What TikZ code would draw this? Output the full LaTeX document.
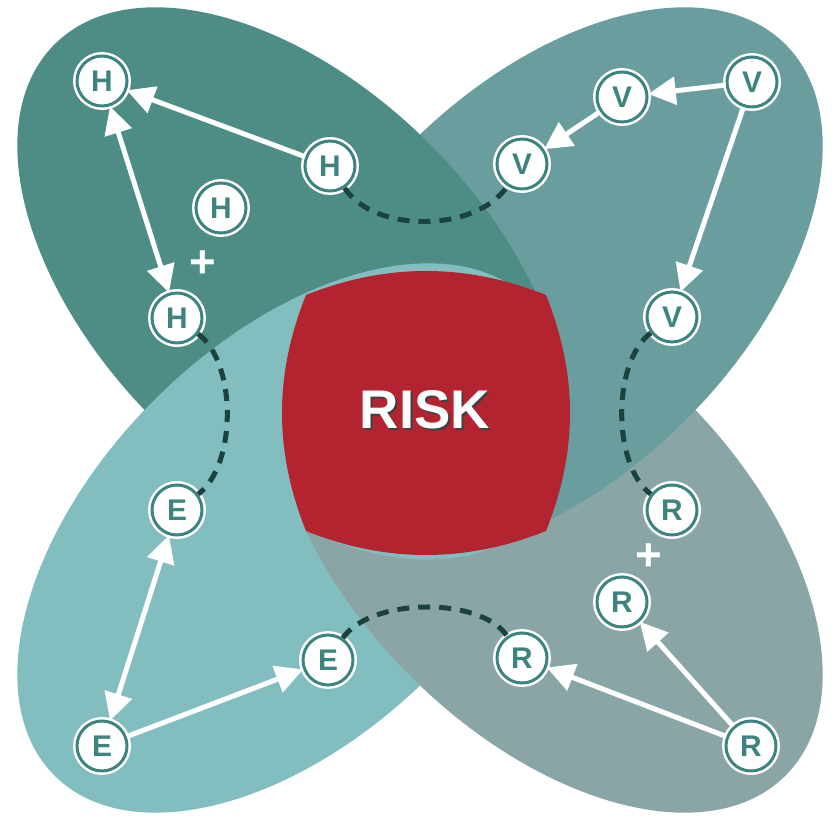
\documentclass[tikz,border=0pt]{standalone}
\usepackage{fontspec}
\setmainfont{Liberation Sans}
\usepackage{xcolor}
\usepackage{tikz}
\usetikzlibrary{arrows.meta,positioning,calc}
\definecolor{petalH}{RGB}{78,141,134}
\definecolor{petalV}{RGB}{106,157,158}
\definecolor{petalE}{RGB}{130,189,191}
\definecolor{petalR}{RGB}{137,165,166}
\definecolor{riskred}{RGB}{180,36,48}
\definecolor{ringteal}{RGB}{62,132,126}
\definecolor{dashdark}{RGB}{28,66,64}
\tikzset{
    letternode/.style={
        circle,
        fill=white,
        draw=ringteal,
        line width=0.06cm,
        preaction={draw=white, line width=0.16cm},
        minimum size=1cm,
        inner sep=0pt,
        text=ringteal,
        font=\fontsize{17}{17}\selectfont\bfseries
    },
    flow/.style={
        draw=white,
        line width=0.1cm,
        -{Triangle[length=0.55cm, width=0.55cm]}
    },
    twoway/.style={
        flow,
        {Triangle[length=0.55cm, width=0.55cm]}-{Triangle[length=0.55cm, width=0.55cm]}
    },
    link/.style={
        draw=dashdark,
        line width=0.1cm,
        dash pattern=on 0.24cm off 0.18cm
    },
    plussign/.style={
        text=white,
        inner sep=0pt,
        font=\fontsize{26}{26}\selectfont\bfseries
    },
    risklabel/.style={
        text=white,
        font=\fontsize{31}{31}\selectfont\bfseries
    }
}

\begin{document}
\begin{tikzpicture}[x=0.02cm, y=-0.02cm]
\fill[white] (0,0) rectangle (833,820);
\useasboundingbox (0,0) rectangle (833,820);

% petal centres
\coordinate (hc) at (292,282);
\coordinate (vc) at (548,282);
\coordinate (ec) at (292,538);
\coordinate (rc) at (548,538);

% petals
\fill[petalE, rotate around={45:(ec)}] (ec) ellipse [x radius=6.72cm, y radius=3.9cm];
\fill[petalR, rotate around={-45:(rc)}] (rc) ellipse [x radius=6.72cm, y radius=3.9cm];
\fill[petalV, rotate around={45:(vc)}] (vc) ellipse [x radius=6.72cm, y radius=3.9cm];
\fill[petalH, rotate around={-45:(hc)}] (hc) ellipse [x radius=6.72cm, y radius=3.9cm];
% E lies over H
\begin{scope}
    \clip[rotate around={-45:(hc)}] (hc) ellipse [x radius=6.78cm, y radius=3.96cm];
    \fill[petalE, rotate around={45:(ec)}] (ec) ellipse [x radius=6.72cm, y radius=3.9cm];
\end{scope}

% RISK
\fill[riskred] (306,295) .. controls (386,263) and (466,263) .. (546,295)
    .. controls (578,375) and (578,451) .. (546,531)
    .. controls (466,563) and (386,563) .. (306,531)
    .. controls (274,451) and (274,375) .. (306,295) -- cycle;
\node[risklabel, text=black!75] (risk-shadow) at (427,412) {RISK};
\node[risklabel] (risk) at (425,410) {RISK};

% H
\node[letternode] (h1) at (102,81) {H};
\node[letternode] (h2) at (330,166) {H};
\node[letternode] (h3) at (221,208) {H};
\node[letternode] (h4) at (177,318) {H};
\node[plussign] (h-plus) at (203,264) {+};

% V
\node[letternode] (v1) at (752,82) {V};
\node[letternode] (v2) at (622,97) {V};
\node[letternode] (v3) at (522,164) {V};
\node[letternode] (v4) at (672,317) {V};

% E
\node[letternode] (e1) at (177,510) {E};
\node[letternode] (e2) at (328,660) {E};
\node[letternode] (e3) at (102,746) {E};

% R
\node[letternode] (r1) at (672,510) {R};
\node[letternode] (r2) at (622,602) {R};
\node[letternode] (r3) at (522,658) {R};
\node[letternode] (r4) at (751,746) {R};
\node[plussign] (r-plus) at (649,557) {+};

% links between groups
\draw[link] (h2) .. controls +(45,68) and +(-45,68) .. (v3);
\draw[link] (h4) .. controls +(60,45) and +(60,-45) .. (e1);
\draw[link] (v4) .. controls +(-60,45) and +(-60,-45) .. (r1);
\draw[link] (e2) .. controls +(42,-62) and +(-42,-62) .. (r3);

% arrows
\draw[flow] (h2) -- (h1);
\draw[twoway] (h1) -- (h4);
\draw[flow] (v1) -- (v2);
\draw[flow] (v2) -- (v3);
\draw[flow] (v1) -- (v4);
\draw[twoway] (e3) -- (e1);
\draw[flow] (e3) -- (e2);
\draw[flow] (r4) -- (r2);
\draw[flow] (r4) -- (r3);
\end{tikzpicture}
\end{document}
